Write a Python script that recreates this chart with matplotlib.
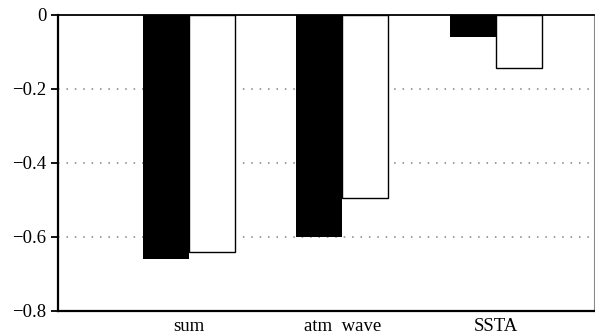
import matplotlib
matplotlib.use("Agg")
import matplotlib.pyplot as plt
import numpy as np

categories = ["sum", "atm  wave", "SSTA"]
series_black = [-0.661, -0.602, -0.059]
series_white = [-0.640, -0.495, -0.144]
yticks = [0, -0.2, -0.4, -0.6, -0.8]
ytick_labels = ["0", "\u22120.2", "\u22120.4", "\u22120.6", "\u22120.8"]

plt.rcParams['font.family'] = ['Liberation Serif', 'DejaVu Serif']

fig = plt.figure(figsize=(5.95, 3.36), dpi=100)
ax = fig.add_axes([58.3/595, 1-310.7/336, (594-58.3)/595, (310.7-14.7)/336])

x = np.arange(len(categories))
w = 0.30
ax.bar(x - w/2, series_black, width=w, color="black", edgecolor="black", linewidth=0, zorder=3)
ax.bar(x + w/2, series_white, width=w, color="white", edgecolor="black", linewidth=1.0, zorder=3)

ax.set_ylim(-0.8, 0)
ax.set_xlim(-0.85, 2.64)
ax.set_yticks(yticks)
ax.set_yticklabels(ytick_labels)
ax.set_xticks(x)
ax.set_xticklabels(categories)
for yv in [-0.2, -0.4, -0.6]:
    ax.axhline(yv, color="#808080", linestyle=(0, (1, 4.5)), linewidth=1.1, zorder=1)

ax.tick_params(axis="y", direction="out", length=5, width=1.3, pad=3.5, labelsize=13.5)
ax.tick_params(axis="x", length=0, pad=5.5, labelsize=13.5)
for s in ["left", "bottom"]:
    ax.spines[s].set_linewidth(1.6)
ax.spines["top"].set_linewidth(1.3)
ax.spines["right"].set_linewidth(0.8)
ax.spines["right"].set_color("#888888")

fig.savefig("out.png", dpi=100)
